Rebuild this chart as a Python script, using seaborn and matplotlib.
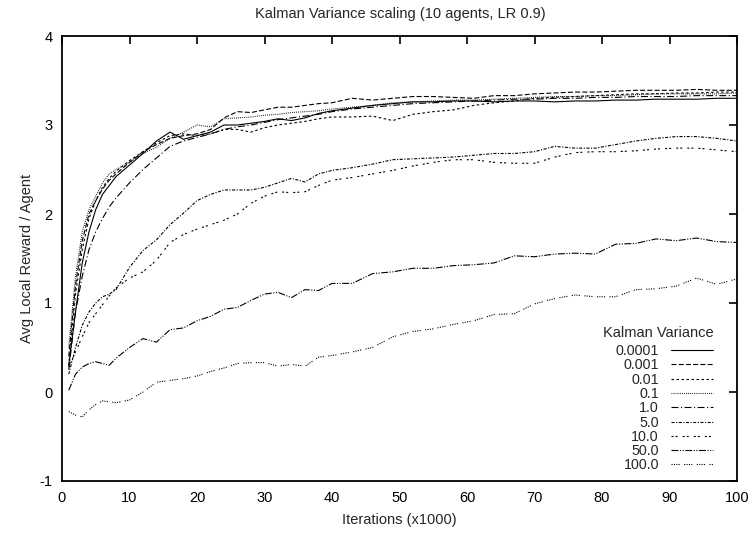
import matplotlib
matplotlib.use("Agg")
import matplotlib.pyplot as plt
import seaborn as sns

# Iteration checkpoints (thousands of iterations)
iterations = [1, 2, 3, 4, 5, 6, 7, 8, 10, 12, 14, 16, 18, 20, 22, 24, 26, 28, 30, 32,
              34, 36, 38, 40, 43, 46, 49, 52, 55, 58, 61, 64, 67, 70, 73, 76, 79, 82,
              85, 88, 91, 94, 97, 100]

# Average local reward per agent for each Kalman variance setting
kv_0_0001 = [0.30, 0.90, 1.45, 1.80, 2.05, 2.22, 2.32, 2.42, 2.55, 2.68, 2.82, 2.92, 2.84, 2.88,
             2.92, 3.00, 3.00, 3.02, 3.04, 3.07, 3.05, 3.08, 3.13, 3.16, 3.19, 3.22, 3.24, 3.26,
             3.26, 3.27, 3.27, 3.26, 3.27, 3.27, 3.26, 3.27, 3.27, 3.28, 3.28, 3.29, 3.29, 3.29,
             3.30, 3.30]
kv_0_001 = [0.40, 1.20, 1.70, 2.00, 2.15, 2.28, 2.38, 2.45, 2.58, 2.70, 2.78, 2.85, 2.88, 2.90,
            2.95, 3.08, 3.15, 3.14, 3.17, 3.20, 3.20, 3.22, 3.24, 3.25, 3.30, 3.28, 3.30, 3.32,
            3.32, 3.31, 3.30, 3.33, 3.33, 3.35, 3.36, 3.37, 3.37, 3.38, 3.39, 3.39, 3.39, 3.40,
            3.39, 3.39]
kv_0_01 = [0.30, 1.10, 1.60, 1.95, 2.15, 2.30, 2.40, 2.48, 2.60, 2.70, 2.80, 2.88, 2.90, 2.88,
           2.90, 2.95, 2.95, 2.92, 2.97, 3.00, 3.02, 3.04, 3.07, 3.09, 3.09, 3.10, 3.05, 3.12,
           3.15, 3.17, 3.22, 3.25, 3.27, 3.30, 3.31, 3.32, 3.33, 3.34, 3.35, 3.35, 3.36, 3.36,
           3.37, 3.37]
kv_0_1 = [0.50, 1.30, 1.80, 2.05, 2.20, 2.35, 2.45, 2.50, 2.58, 2.68, 2.75, 2.85, 2.92, 3.00,
          2.98, 3.07, 3.08, 3.09, 3.11, 3.12, 3.14, 3.15, 3.16, 3.18, 3.20, 3.22, 3.25, 3.26,
          3.27, 3.28, 3.28, 3.29, 3.30, 3.31, 3.32, 3.32, 3.33, 3.33, 3.34, 3.35, 3.35, 3.35,
          3.35, 3.36]
kv_1_0 = [0.25, 0.90, 1.30, 1.60, 1.80, 1.95, 2.08, 2.18, 2.35, 2.50, 2.63, 2.76, 2.82, 2.86,
          2.90, 2.95, 2.98, 3.00, 3.03, 3.06, 3.08, 3.10, 3.12, 3.15, 3.18, 3.20, 3.22, 3.24,
          3.25, 3.26, 3.27, 3.28, 3.29, 3.29, 3.30, 3.30, 3.31, 3.31, 3.32, 3.32, 3.32, 3.33,
          3.33, 3.33]
kv_5_0 = [0.20, 0.50, 0.75, 0.90, 1.00, 1.07, 1.10, 1.15, 1.40, 1.59, 1.71, 1.88, 2.01, 2.15,
          2.22, 2.27, 2.27, 2.27, 2.30, 2.35, 2.40, 2.36, 2.45, 2.49, 2.52, 2.56, 2.61, 2.62,
          2.63, 2.64, 2.66, 2.68, 2.68, 2.70, 2.76, 2.74, 2.74, 2.78, 2.82, 2.85, 2.87, 2.87,
          2.85, 2.82]
kv_10_0 = [0.28, 0.45, 0.62, 0.78, 0.88, 0.98, 1.08, 1.17, 1.28, 1.35, 1.48, 1.68, 1.77, 1.83,
           1.88, 1.93, 2.00, 2.12, 2.20, 2.25, 2.24, 2.25, 2.32, 2.38, 2.41, 2.45, 2.49, 2.54,
           2.58, 2.61, 2.61, 2.58, 2.57, 2.57, 2.64, 2.69, 2.70, 2.70, 2.71, 2.73, 2.74, 2.74,
           2.72, 2.70]
kv_50_0 = [0.02, 0.20, 0.28, 0.32, 0.34, 0.32, 0.30, 0.38, 0.50, 0.60, 0.56, 0.70, 0.72, 0.80,
           0.85, 0.93, 0.95, 1.03, 1.10, 1.12, 1.06, 1.15, 1.14, 1.22, 1.22, 1.33, 1.35, 1.39,
           1.39, 1.42, 1.43, 1.45, 1.53, 1.52, 1.55, 1.56, 1.55, 1.66, 1.67, 1.72, 1.70, 1.73,
           1.69, 1.68]
kv_100_0 = [-0.22, -0.26, -0.28, -0.20, -0.14, -0.10, -0.11, -0.12, -0.09, 0.00, 0.11, 0.13,
            0.15, 0.18, 0.23, 0.27, 0.32, 0.33, 0.33, 0.29, 0.31, 0.29, 0.39, 0.41, 0.45, 0.50,
            0.62, 0.68, 0.71, 0.76, 0.80, 0.87, 0.88, 0.99, 1.05, 1.09, 1.07, 1.07, 1.15, 1.16,
            1.19, 1.28, 1.21, 1.27]

variance_labels = ["0.0001", "0.001", "0.01", "0.1", "1.0", "5.0", "10.0", "50.0", "100.0"]
series = [kv_0_0001, kv_0_001, kv_0_01, kv_0_1, kv_1_0, kv_5_0, kv_10_0, kv_50_0, kv_100_0]

# Line dash patterns in points
line_styles = [
    "-",
    (0, (3.6, 1.6)),
    (0, (1.8, 1.8)),
    (0, (0.6, 0.9)),
    (0, (5.0, 1.8, 0.8, 1.8)),
    (0, (2.2, 1.1, 0.8, 1.1)),
    (0, (1.5, 1.4, 1.5, 3.6)),
    (0, (5.0, 1.1, 0.8, 1.1, 0.8, 1.1)),
    (0, (0.8, 0.9, 0.8, 0.9, 0.8, 0.9, 0.8, 3.2)),
]

sns.set_style("white")
plt.rcParams["font.family"] = ["Liberation Sans", "DejaVu Sans"]
plt.rcParams["lines.scale_dashes"] = False
plt.rcParams["axes.unicode_minus"] = False

W, H = 753, 533
fig = plt.figure(figsize=(W / 100, H / 100), dpi=100)
ax = fig.add_axes([62 / W, 1 - 481 / H, (737 - 62) / W, (481 - 36) / H])

for vals, lab, ls in zip(series, variance_labels, line_styles):
    sns.lineplot(x=iterations, y=vals, ax=ax, color="black", lw=0.8,
                 linestyle=ls, label=lab, estimator=None, legend=False)

ax.set_xlim(0, 100)
ax.set_ylim(-1, 4)
ax.set_xticks(range(0, 101, 10))
ax.set_yticks(range(-1, 5))

for sp in ax.spines.values():
    sp.set_visible(True)
    sp.set_linewidth(1.3)
    sp.set_color("black")

ax.tick_params(direction="in", length=5.5, width=1.2, top=True, right=True,
               labelsize=10.5, pad=7, colors="black")

ax.set_xlabel("Iterations (x1000)", fontsize=10.5)
ax.set_ylabel("Avg Local Reward / Agent", fontsize=10.5)
ax.xaxis.set_label_coords(0.5, (481 - 520) / 445)
ax.xaxis.label.set_va("center")
ax.yaxis.set_label_coords((27 - 62) / 675, 0.5)
ax.yaxis.label.set_va("center")

fig.text(400 / W, 1 - 14 / H, "Kalman Variance scaling (10 agents, LR 0.9)",
         ha="center", va="center", fontsize=10.5)

handles = ax.get_lines()
leg = ax.legend(handles=handles, labels=variance_labels, loc="upper right",
                bbox_to_anchor=(720 / W, 1 - 337 / H), bbox_transform=fig.transFigure,
                frameon=False, markerfirst=False, handlelength=2.95,
                handletextpad=0.82, labelspacing=0.02, borderpad=0,
                fontsize=10.3)
fig.text(658 / W, 1 - 333 / H, "Kalman Variance", ha="center", va="center",
         fontsize=10.5)

fig.savefig("out.png", dpi=100, facecolor="white")
